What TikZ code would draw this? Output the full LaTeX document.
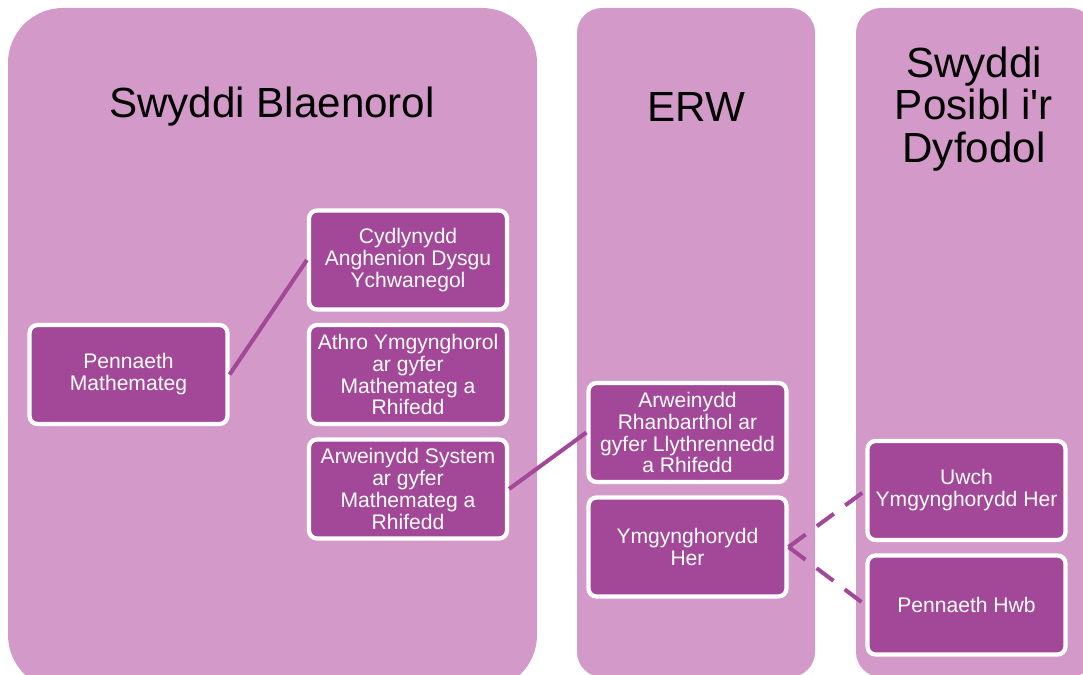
\documentclass[tikz,border=0pt]{standalone}
\usepackage{fontspec}
\setmainfont{Liberation Sans}
\usepackage{xcolor}
\usepackage{tikz}
\usetikzlibrary{positioning}
\definecolor{colbg}{RGB}{211,154,201}
\definecolor{boxbg}{RGB}{163,71,152}

\tikzset{
	role/.style={draw=white, line width=2.4pt, fill=boxbg, rounded corners=0.16cm,
		text=white, align=center, minimum width=3.96cm, minimum height=1.98cm,
		inner sep=1pt, font=\fontsize{12}{12.5}\selectfont},
	head/.style={align=center, font=\fontsize{24}{24}\selectfont},
	link/.style={draw=boxbg, line width=2.3pt},
}

\begin{document}
\begin{tikzpicture}[x=0.02cm, y=-0.02cm]
		
		\useasboundingbox (0,0) rectangle (1083,675);
		\clip (0,0) rectangle (1083,675);
		
		% columns
		\fill[colbg, rounded corners=1.1cm] (8,8) rectangle (537,690);
		\fill[colbg, rounded corners=0.5cm] (577,8) rectangle (815,677);
		\fill[colbg, rounded corners=0.5cm] (856,8) rectangle (1095,677);
		
		\node[head] (t1) at (272,107) {Swyddi Blaenorol};
		\node[head] (t2) at (696,107) {ERW};
		\node[head] (t3) at (974,109) {Swyddi\\Posibl i\textquotesingle r\\Dyfodol};
		
		\node[role] (pm) at (128.5,374.5) {Pennaeth\\Mathemateg};
		
		\node[role] (c1) at (408,260) {Cydlynydd\\Anghenion Dysgu\\Ychwanegol};
		\node[role] (c2) at (408,374.5) {Athro Ymgynghorol\\ar gyfer\\Mathemateg a\\Rhifedd};
		\node[role] (c3) at (408,489) {Arweinydd System\\ar gyfer\\Mathemateg a\\Rhifedd};
		
		\node[role] (e1) at (687.5,432.5) {Arweinydd\\Rhanbarthol ar\\gyfer Llythrennedd\\a Rhifedd};
		\node[role] (e2) at (687.5,547) {Ymgynghorydd\\Her};
		
		\node[role] (f1) at (966.5,490.5) {Uwch\\Ymgynghorydd Her};
		\node[role] (f2) at (966.5,605) {Pennaeth Hwb};
		
		\path[link]
		(pm.east) edge (c1.west)
		(c3.east) edge (e1.west)
		;
		\path[link, dash pattern=on 12pt off 8pt]
		(e2.east) edge (f1.west)
		(e2.east) edge (f2.west)
		;
		\end{tikzpicture}
\end{document}
